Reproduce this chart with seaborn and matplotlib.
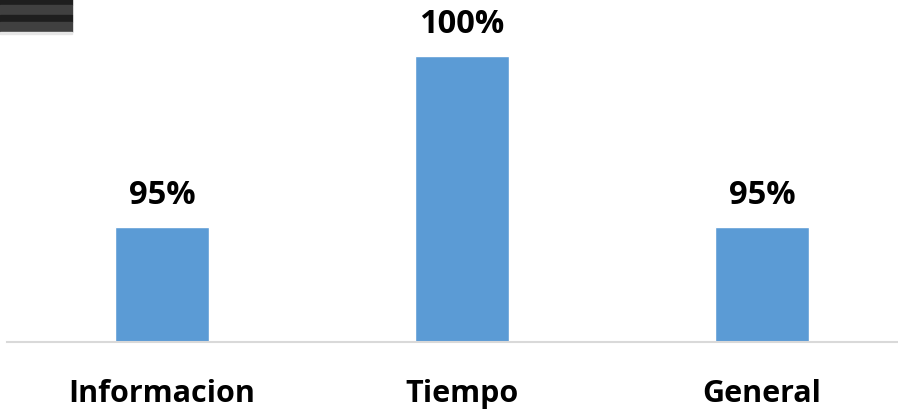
import pandas as pd
import numpy as np
import matplotlib.pyplot as plt
import matplotlib.patches as mpatches
import seaborn as sns

categorias = ['Informacion', 'Tiempo', 'General']
valores = [95, 100, 95]
etiquetas = ['95%', '100%', '95%']

df = pd.DataFrame({'Categoria': categorias, 'Valor': valores})

sns.set_style('white')
plt.rcParams['font.family'] = ['Open Sans', 'DejaVu Sans']

fig = plt.figure(figsize=(8.98, 4.10), dpi=100)
ax = fig.add_axes([0.0078, 0.1634, 0.9922, 0.8366])

sns.barplot(data=df, x='Categoria', y='Valor', color='#5B9BD5', width=0.313,
            saturation=1, ax=ax)

ax.set_ylim(91.637, 101.667)
ax.set_xlim(-0.517, 2.453)

for p, txt in zip(ax.patches, etiquetas):
    ax.annotate(txt, (p.get_x() + p.get_width() / 2, p.get_height()),
                xytext=(0, 11.5), textcoords='offset points',
                ha='center', va='bottom', fontsize=23.5, fontweight='bold', color='black')

ax.set_xlabel('')
ax.set_ylabel('')
ax.set_yticks([])
ax.tick_params(axis='x', length=0, pad=26, labelsize=22, labelcolor='black')
for lbl in ax.get_xticklabels():
    lbl.set_fontweight('bold')

for s in ['top', 'right', 'left']:
    ax.spines[s].set_visible(False)
ax.spines['bottom'].set_color('#D9D9D9')
ax.spines['bottom'].set_linewidth(1.5)

# franjas oscuras de la esquina superior izquierda
franjas = [(0, 6, '#1e1e1e'), (6, 16, '#404040'), (16, 23, '#1e1e1e'), (23, 33, '#404040'),
           (33, 35, '#e6e6e6')]
for y0, y1, c in franjas:
    fig.patches.append(mpatches.Rectangle((0, 1 - y1 / 410), 72 / 898, (y1 - y0) / 410,
                                          transform=fig.transFigure, color=c, zorder=5))

plt.savefig('out.png', dpi=100)
